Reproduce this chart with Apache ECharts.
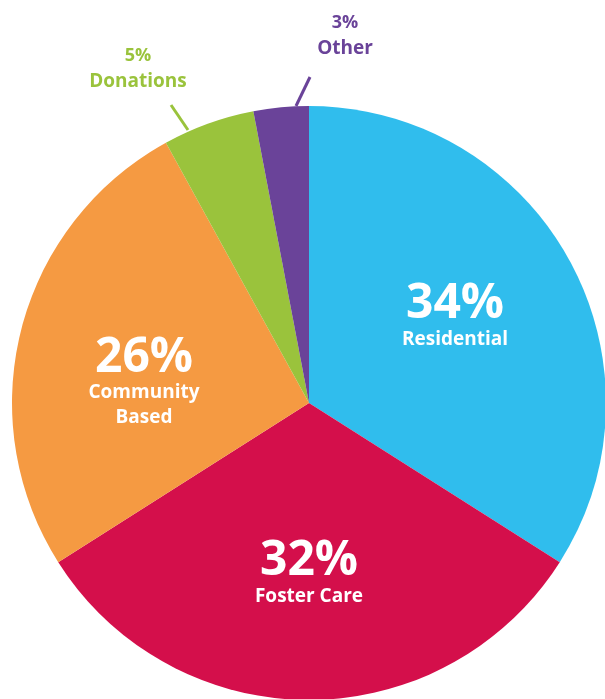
<!DOCTYPE html>
<html>
<head>
<meta charset="utf-8">
<script src="https://cdn.jsdelivr.net/npm/echarts@6/dist/echarts.min.js"></script>
<style>html,body{margin:0;padding:0;background:#fff}#c{width:605px;height:699px}</style>
</head>
<body>
<div id="c"></div>
<script>
const categories = ['Residential', 'Foster Care', 'Community\nBased', 'Donations', 'Other'];
const values = [34, 32, 26, 5, 3];
const colors = ['#30BDED', '#D40F4B', '#F59A42', '#9AC33C', '#6A4399'];
const insideFlags = [true, true, true, false, false];

// label anchor positions (block centres) and label-line points
const labelPos = [[455, 317], [309, 574], [144, 383], [138, 69], [345, 36]];
const linePts = [null, null, null, [[188, 130], [171, 105]], [[296, 106], [310, 77]]];

const chart = echarts.init(document.getElementById('c'), null, {renderer: 'canvas'});
const font = '"Open Sans", sans-serif';

const data = categories.map((name, i) => {
  const inside = insideFlags[i];
  return {
    name: name,
    value: values[i],
    itemStyle: {color: colors[i]},
    label: inside ? {
      show: true,
      position: 'inside',
      formatter: '{p|{c}%}\n{n|{b}}',
      rich: {
        p: {fontFamily: font, fontWeight: 'bold', fontSize: 48, color: '#fff', lineHeight: 45, align: 'center'},
        n: {fontFamily: font, fontWeight: 'bold', fontSize: 19, color: '#fff', lineHeight: 25, align: 'center'}
      }
    } : {
      show: true,
      position: 'outside',
      formatter: '{q|{c}%}\n{n|{b}}',
      rich: {
        q: {fontFamily: font, fontWeight: 'bold', fontSize: 18, color: colors[i], lineHeight: 26, align: 'center'},
        n: {fontFamily: font, fontWeight: 'bold', fontSize: 19, color: colors[i], lineHeight: 26, align: 'center'}
      }
    },
    labelLine: inside ? {show: false} : {show: true, lineStyle: {color: colors[i], width: 3}}
  };
});

chart.setOption({
  animation: false,
  series: [{
    type: 'pie',
    center: [309, 403],
    radius: [0, 297],
    startAngle: 90,
    clockwise: true,
    avoidLabelOverlap: false,
    data: data,
    labelLayout: function (params) {
      const i = params.dataIndex;
      const r = {x: labelPos[i][0], y: labelPos[i][1], align: 'center', verticalAlign: 'middle'};
      if (linePts[i]) r.labelLinePoints = linePts[i];
      return r;
    }
  }]
});
</script>
</body>
</html>
